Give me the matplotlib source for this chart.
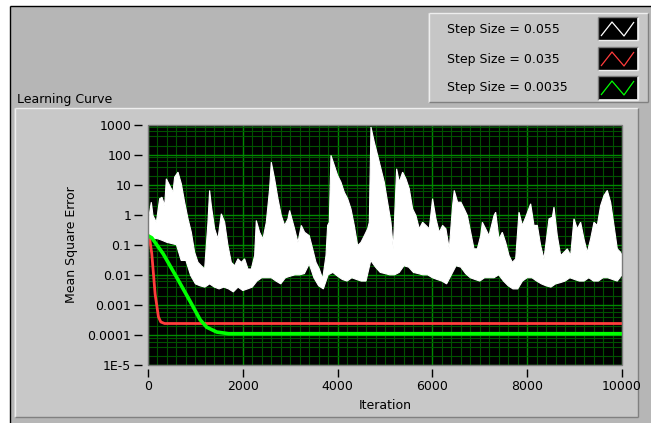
import matplotlib
matplotlib.use('Agg')
import matplotlib.pyplot as plt
from matplotlib.patches import Rectangle
from matplotlib.lines import Line2D
from matplotlib.ticker import FixedLocator, MultipleLocator, LogLocator, NullFormatter

W, H = 651, 423

# ---------------- data ----------------
# Step Size = 0.055 : upper edge of the noisy white trace
white_top_iter = [0, 70, 105, 176, 246, 295, 352, 387, 457, 527, 562, 633, 703, 773, 844,
                  914, 984, 1055, 1125, 1195, 1265, 1300, 1336, 1406, 1476, 1547, 1617,
                  1687, 1758, 1828, 1898, 1968, 2039, 2109, 2179, 2250, 2285, 2355, 2425,
                  2496, 2566, 2601, 2671, 2742, 2812, 2882, 2953, 2988, 3093, 3163, 3234,
                  3304, 3403, 3474, 3544, 3614, 3685, 3755, 3790, 3825, 3860, 3931, 4001,
                  4071, 4141, 4212, 4282, 4352, 4423, 4493, 4563, 4634, 4669, 4704, 4774,
                  4845, 4915, 4985, 5055, 5126, 5175, 5217, 5245, 5301, 5372, 5442, 5512,
                  5583, 5653, 5723, 5794, 5864, 5934, 6004, 6075, 6145, 6215, 6285, 6356,
                  6426, 6461, 6532, 6602, 6672, 6737, 6808, 6878, 6948, 7019, 7054, 7124,
                  7194, 7300, 7335, 7405, 7475, 7546, 7616, 7686, 7757, 7827, 7897, 7968,
                  8073, 8143, 8214, 8284, 8354, 8460, 8530, 8565, 8635, 8706, 8776, 8846,
                  8917, 8987, 9057, 9128, 9198, 9268, 9338, 9409, 9479, 9549, 9620, 9690,
                  9760, 9831, 9901, 9971, 10000]
white_top_mse = [0.56, 2.6, 0.94, 0.56, 3.4, 3.8, 2.0, 15.6, 9.4, 5.6, 17.8, 26, 10.7, 2.6, 0.73,
                 0.26, 0.056, 0.026, 0.020, 0.0156, 0.56, 6.4, 2.0, 0.34, 0.156, 1.07, 0.56,
                 0.094, 0.026, 0.020, 0.034, 0.026, 0.034, 0.0156, 0.0156, 0.044, 0.64, 0.26, 0.156,
                 0.56, 7.3, 56, 15.6, 3.4, 0.94, 0.44, 0.73, 1.38, 0.34, 0.12, 0.44,
                 0.26, 0.20, 0.073, 0.026, 0.0156, 0.0073, 0.044, 0.44, 0.56, 94, 43.5, 20.2,
                 12.1, 5.6, 3.4, 1.56, 0.44, 0.094, 0.12, 0.20, 0.34, 0.56, 825, 261,
                 94, 33.7, 12.1, 2.6, 0.56, 0.073, 2.6, 33.7, 12.1, 26, 15.6, 7.3,
                 1.56, 0.94, 0.34, 0.56, 0.44, 0.34, 3.4, 0.73, 0.26, 0.44, 0.34, 0.073,
                 2.0, 6.4, 2.6, 2.6, 1.56, 0.94, 0.26, 0.073, 0.073, 0.20, 0.56, 0.34,
                 0.20, 0.94, 1.21, 0.156, 0.26, 0.12, 0.044, 0.026, 0.034, 1.21, 0.44, 0.82,
                 2.3, 0.44, 0.44, 0.094, 0.034, 0.73, 0.82, 1.78, 0.20, 0.044, 0.056, 0.073,
                 0.044, 0.73, 0.34, 0.56, 0.156, 0.056, 0.156, 0.56, 0.44, 2.0, 4.35, 6.4,
                 2.6, 0.44, 0.073, 0.056, 0.044]

# Step Size = 0.055 : lower edge of the noisy white trace
white_lo_iter = list(range(0, 10001, 100))
white_lo_mse = [0.2, 0.16, 0.16, 0.14, 0.12, 0.11, 0.1, 0.03, 0.03, 0.0095,
                0.005, 0.0043, 0.0039, 0.005, 0.0039, 0.0034, 0.0039, 0.0034, 0.0027, 0.0039,
                0.003, 0.0034, 0.0039, 0.0062, 0.008, 0.008, 0.008, 0.0062, 0.005, 0.008,
                0.009, 0.01, 0.01, 0.011, 0.023, 0.008, 0.0043, 0.0034, 0.01, 0.012,
                0.009, 0.007, 0.0062, 0.008, 0.007, 0.0062, 0.0062, 0.03, 0.018, 0.012,
                0.011, 0.01, 0.01, 0.012, 0.02, 0.018, 0.012, 0.011, 0.01, 0.01,
                0.008, 0.007, 0.0062, 0.005, 0.01, 0.02, 0.018, 0.011, 0.008, 0.007,
                0.0062, 0.008, 0.008, 0.008, 0.01, 0.0062, 0.0043, 0.0034, 0.0034, 0.0062,
                0.008, 0.008, 0.0062, 0.005, 0.0043, 0.0039, 0.005, 0.0055, 0.0062, 0.008,
                0.007, 0.0062, 0.0062, 0.008, 0.0062, 0.0062, 0.008, 0.008, 0.007, 0.0062,
                0.01]

red_iter = [0, 30, 80, 150, 220, 270, 350, 10000]
red_mse = [0.2, 0.18, 0.05, 0.0023, 0.0004, 0.00027, 0.00024, 0.00024]

green_iter = [0, 80, 320, 600, 890, 1100, 1240, 1450, 1700, 10000]
green_mse = [0.2, 0.17, 0.05, 0.0085, 0.0013, 0.00032, 0.00018, 0.000125, 0.00011, 0.00011]

legend_labels = ['Step Size = 0.055', 'Step Size = 0.035', 'Step Size = 0.0035']
series_colors = ['#ffffff', '#ff3c3c', '#00ff00']

y_ticks = [1e-5, 1e-4, 1e-3, 1e-2, 1e-1, 1, 10, 100, 1000]
y_tick_labels = ['1E-5', '0.0001', '0.001', '0.01', '0.1', '1', '10', '100', '1000']
x_ticks = [0, 2000, 4000, 6000, 8000, 10000]
x_tick_labels = ['0', '2000', '4000', '6000', '8000', '10000']

title_text = 'Learning Curve'
x_label = 'Iteration'
y_label = 'Mean Square Error'

# ---------------- figure ----------------
plt.rcParams['font.family'] = ['DejaVu Sans']
FS = 9

fig = plt.figure(figsize=(W / 100, H / 100), dpi=100)
fig.patch.set_facecolor('white')


def fx(x):
    return x / W


def fy(y):
    return 1 - y / H


def rect(x0, y0, x1, y1, zorder=1, **kw):
    fig.add_artist(Rectangle((fx(x0), fy(y1)), (x1 - x0) / W, (y1 - y0) / H,
                             transform=fig.transFigure, zorder=zorder, **kw))


def line(xs, ys, color, lw=1.0, zorder=2):
    fig.add_artist(Line2D([fx(v) for v in xs], [fy(v) for v in ys],
                          transform=fig.transFigure, color=color, lw=lw,
                          zorder=zorder, solid_capstyle='butt'))


def bevel(x0, y0, x1, y1, light='#eeeeee', dark='#808080', zorder=2):
    line([x0, x1], [y0, y0], light, 1, zorder)
    line([x0, x0], [y0, y1], light, 1, zorder)
    line([x0, x1], [y1, y1], dark, 1, zorder)
    line([x1, x1], [y0, y1], dark, 1, zorder)


# outer panel
rect(9.5, 6.5, W, H, facecolor='#b6b6b6', edgecolor='none', zorder=0)
line([9.5, W], [6.5, 6.5], 'black', 1, 1)
line([9.5, 9.5], [6.5, H], 'black', 1, 1)

# legend panel
rect(428, 13, 648, 103, facecolor='#c6c6c6', edgecolor='none', zorder=1)
bevel(428.5, 13.5, 647.5, 102.5, zorder=2)
row_centers = [29, 59, 88]
for lab, col, yc in zip(legend_labels, series_colors, row_centers):
    fig.text(fx(447), fy(yc), lab, fontsize=FS, ha='left', va='center', color='black')
    sx0, sx1, sy0, sy1 = 598, 637, yc - 11, yc + 11
    rect(sx0, sy0, sx1, sy1, facecolor='black', edgecolor='none', zorder=2)
    bevel(sx0 - 0.5, sy0 - 0.5, sx1 + 0.5, sy1 + 0.5, light='#7a7a7a', dark='#eeeeee', zorder=3)
    line([sx0 + 3, sx0 + 14, sx0 + 26, sx1 - 3], [sy1 - 4, sy0 + 4, sy1 - 4, sy0 + 4], col, 0.9, 4)

# graph title
fig.text(fx(17), fy(100), title_text, fontsize=FS, ha='left', va='center', color='black')

# graph frame
rect(14, 108, 638, 417, facecolor='#c8c8c8', edgecolor='none', zorder=1)
bevel(14.5, 108.5, 637.5, 416.5, zorder=2)

# ---------------- plot area ----------------
ax = fig.add_axes([fx(148), fy(365), (622 - 148) / W, (365 - 124.5) / H])
ax.set_zorder(10)
ax.set_facecolor('black')
ax.set_yscale('log')
ax.set_xlim(0, 10000)
ax.set_ylim(1e-5, 1000)

ax.yaxis.set_major_locator(FixedLocator(y_ticks))
ax.set_yticklabels(y_tick_labels)
ax.yaxis.set_minor_locator(LogLocator(base=10, subs=(2, 4, 6, 8), numticks=20))
ax.yaxis.set_minor_formatter(NullFormatter())
ax.xaxis.set_major_locator(FixedLocator(x_ticks))
ax.set_xticklabels(x_tick_labels)
ax.xaxis.set_minor_locator(MultipleLocator(200))

ax.grid(which='major', color='#008a00', lw=1.0)
ax.grid(which='minor', color='#005200', lw=0.8)
ax.set_axisbelow(True)

for s in ax.spines.values():
    s.set_visible(False)
ax.spines['left'].set_position(('outward', 4))
ax.spines['bottom'].set_position(('outward', 3))
ax.tick_params(which='major', direction='out', length=6, width=1, color='black',
               labelsize=FS, labelcolor='black', pad=2)
ax.tick_params(which='minor', length=0)
ax.add_patch(Rectangle((0, 0), 1, 1, transform=ax.transAxes, fill=False,
                       edgecolor='#7a7a7a', lw=1, clip_on=False, zorder=6))

# series
ax.fill(white_top_iter + white_lo_iter[::-1], white_top_mse + white_lo_mse[::-1],
        facecolor=series_colors[0], edgecolor=series_colors[0], lw=0.8, zorder=3)
ax.plot(red_iter, red_mse, color=series_colors[1], lw=2.0, zorder=4)
ax.plot(green_iter, green_mse, color=series_colors[2], lw=2.6, zorder=5)

fig.text(fx(385), fy(405), x_label, fontsize=FS, ha='center', va='center', color='black')
fig.text(fx(72), fy(245), y_label, fontsize=FS, ha='center', va='center',
         rotation=90, color='black')

fig.savefig('out.png', dpi=100, facecolor=fig.get_facecolor())
